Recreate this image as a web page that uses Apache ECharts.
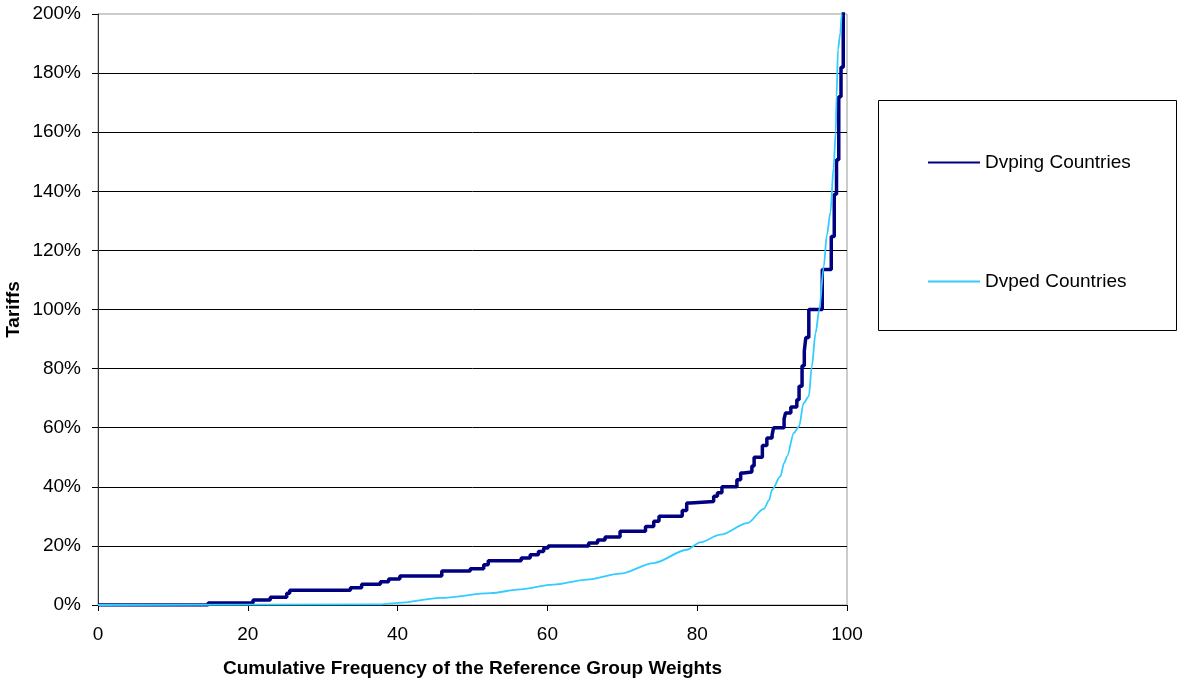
<!DOCTYPE html>
<html>
<head>
<meta charset="utf-8">
<title>Tariffs</title>
<script src="https://cdn.jsdelivr.net/npm/echarts@6/dist/echarts.min.js"></script>
<style>
  html, body { margin: 0; padding: 0; background: #fff; }
  #chart { width: 1178px; height: 682px; }
</style>
</head>
<body>
<div id="chart"></div>
<script>
// x ticks and y ticks
const xTicks = [0, 20, 40, 60, 80, 100];
const yTicks = [0, 20, 40, 60, 80, 100, 120, 140, 160, 180, 200];

const seriesNames = ["Dvping Countries", "Dvped Countries"];

// Dvping: [cumulative freq, tariff %] — level starts at x and holds until the next x
const dvpingData = [
  [0, 0], [14.7, 0.7], [20.7, 1.7], [23, 2.6], [25.2, 4], [25.6, 5],
  [33.7, 5.8], [35.2, 7], [37.7, 7.9], [38.8, 8.8], [40.3, 9.8],
  [45.9, 11.5], [49.7, 12.3], [51.5, 13.6], [52.1, 15], [56.5, 15.9],
  [57.7, 17], [58.8, 18.1], [59.5, 19.3], [60.1, 20], [65.5, 21],
  [66.7, 22], [67.7, 23], [69.7, 25], [73.1, 26.6], [74.2, 28.3],
  [74.9, 30], [78.0, 32], [78.6, 34.5], [79.1, 35], [82.2, 36.8],
  [82.7, 38], [83.3, 40], [85.3, 42.4], [85.8, 44.7], [86.2, 45],
  [87.3, 47], [87.6, 50], [88.7, 54], [89.3, 56.5], [90.0, 57.6],
  [90.2, 60], [91.6, 63], [91.8, 65], [92.5, 67], [93.3, 69.5],
  [93.6, 74], [94.0, 81], [94.3, 86], [94.5, 90.5], [94.9, 100],
  [96.7, 113.5], [97.9, 124.7], [98.3, 139], [98.6, 150.7], [98.9, 172],
  [99.2, 182], [99.5, 200], [99.7, 215]
];

// Dvped: [cumulative freq, tariff %]
const dvpedData = [
  [0, 0], [37.7, 0.2], [40.1, 0.7], [45.7, 2.4], [52.4, 4], [56.4, 5.3],
  [60.8, 6.9], [65.3, 8.6], [69.7, 10.6], [74.2, 14.2], [78.6, 18.7],
  [80.4, 21.2], [83.1, 23.8], [86.7, 27.7], [88.9, 32.5], [89.6, 35.5],
  [90, 39], [91.1, 43.5], [91.6, 48], [92, 50.3], [92.9, 58.2],
  [93.6, 60.4], [94.2, 68.3], [94.9, 70.6], [95.3, 80.7], [95.8, 92],
  [96.3, 100], [96.9, 114.6], [97.3, 125], [97.8, 133], [98.2, 148],
  [98.5, 160], [98.6, 172], [98.8, 188], [99.1, 193.5], [99.3, 200],
  [99.5, 212]
];

const chart = echarts.init(document.getElementById("chart"), null, { renderer: "canvas" });
const font = "Liberation Sans, Arial, sans-serif";

const option = {
  animation: false,
  textStyle: { fontFamily: font },
  grid: {
    left: 98,
    right: 331,
    top: 14,
    bottom: 77,
    outerBoundsMode: "none",
    containLabel: false,
    show: true,
    borderColor: "#9a9a9a",
    borderWidth: 1,
    backgroundColor: "transparent",
  },
  legend: {
    orient: "vertical",
    left: 927,
    top: 153,
    padding: 0,
    itemGap: 100,
    itemWidth: 52,
    itemHeight: 20,
    itemStyle: { opacity: 0 },
    textStyle: { fontFamily: font, fontSize: 19, color: "#000" },
    data: seriesNames,
  },
  graphic: [
    {
      type: "rect",
      shape: { x: 878.5, y: 100.5, width: 298, height: 230 },
      style: { fill: "none", stroke: "#000", lineWidth: 1 },
      z: 0,
    },
  ],
  xAxis: {
    type: "value",
    min: xTicks[0],
    max: xTicks[xTicks.length - 1],
    interval: 20,
    name: "Cumulative Frequency of the Reference Group Weights",
    nameLocation: "middle",
    nameGap: 54,
    nameMoveOverlap: false,
    nameTextStyle: { fontFamily: font, fontSize: 19, fontWeight: "bold", color: "#000" },
    axisLine: { lineStyle: { color: "#000", width: 1 } },
    axisTick: { show: true, inside: false, length: 6, lineStyle: { color: "#000" } },
    axisLabel: { fontFamily: font, fontSize: 19, color: "#000", margin: 20 },
    splitLine: { show: false },
  },
  yAxis: {
    type: "value",
    min: yTicks[0],
    max: yTicks[yTicks.length - 1],
    interval: 20,
    name: "Tariffs",
    nameLocation: "middle",
    nameGap: 75,
    nameRotate: 90,
    nameMoveOverlap: false,
    nameTextStyle: { fontFamily: font, fontSize: 19, fontWeight: "bold", color: "#000" },
    axisLine: { show: true, lineStyle: { color: "#333", width: 1 } },
    axisTick: { show: true, inside: false, length: 6, lineStyle: { color: "#000" } },
    axisLabel: {
      fontFamily: font,
      fontSize: 19,
      color: "#000",
      margin: 17,
      formatter: "{value}%",
    },
    splitLine: { show: true, showMaxLine: false, lineStyle: { color: "#000", width: 1 } },
  },
  series: [
    {
      name: seriesNames[0],
      type: "line",
      step: "end",
      symbol: "none",
      clip: true,
      lineStyle: { color: "#000080", width: 3.5 },
      itemStyle: { color: "#000080" },
      data: dvpingData,
      z: 3,
    },
    {
      name: seriesNames[1],
      type: "line",
      symbol: "none",
      clip: true,
      smooth: 0.3,
      smoothMonotone: "x",
      lineStyle: { color: "#33ccff", width: 1.8 },
      itemStyle: { color: "#33ccff" },
      data: dvpedData,
      z: 4,
    },
  ],
};

chart.setOption(option);
</script>
</body>
</html>
